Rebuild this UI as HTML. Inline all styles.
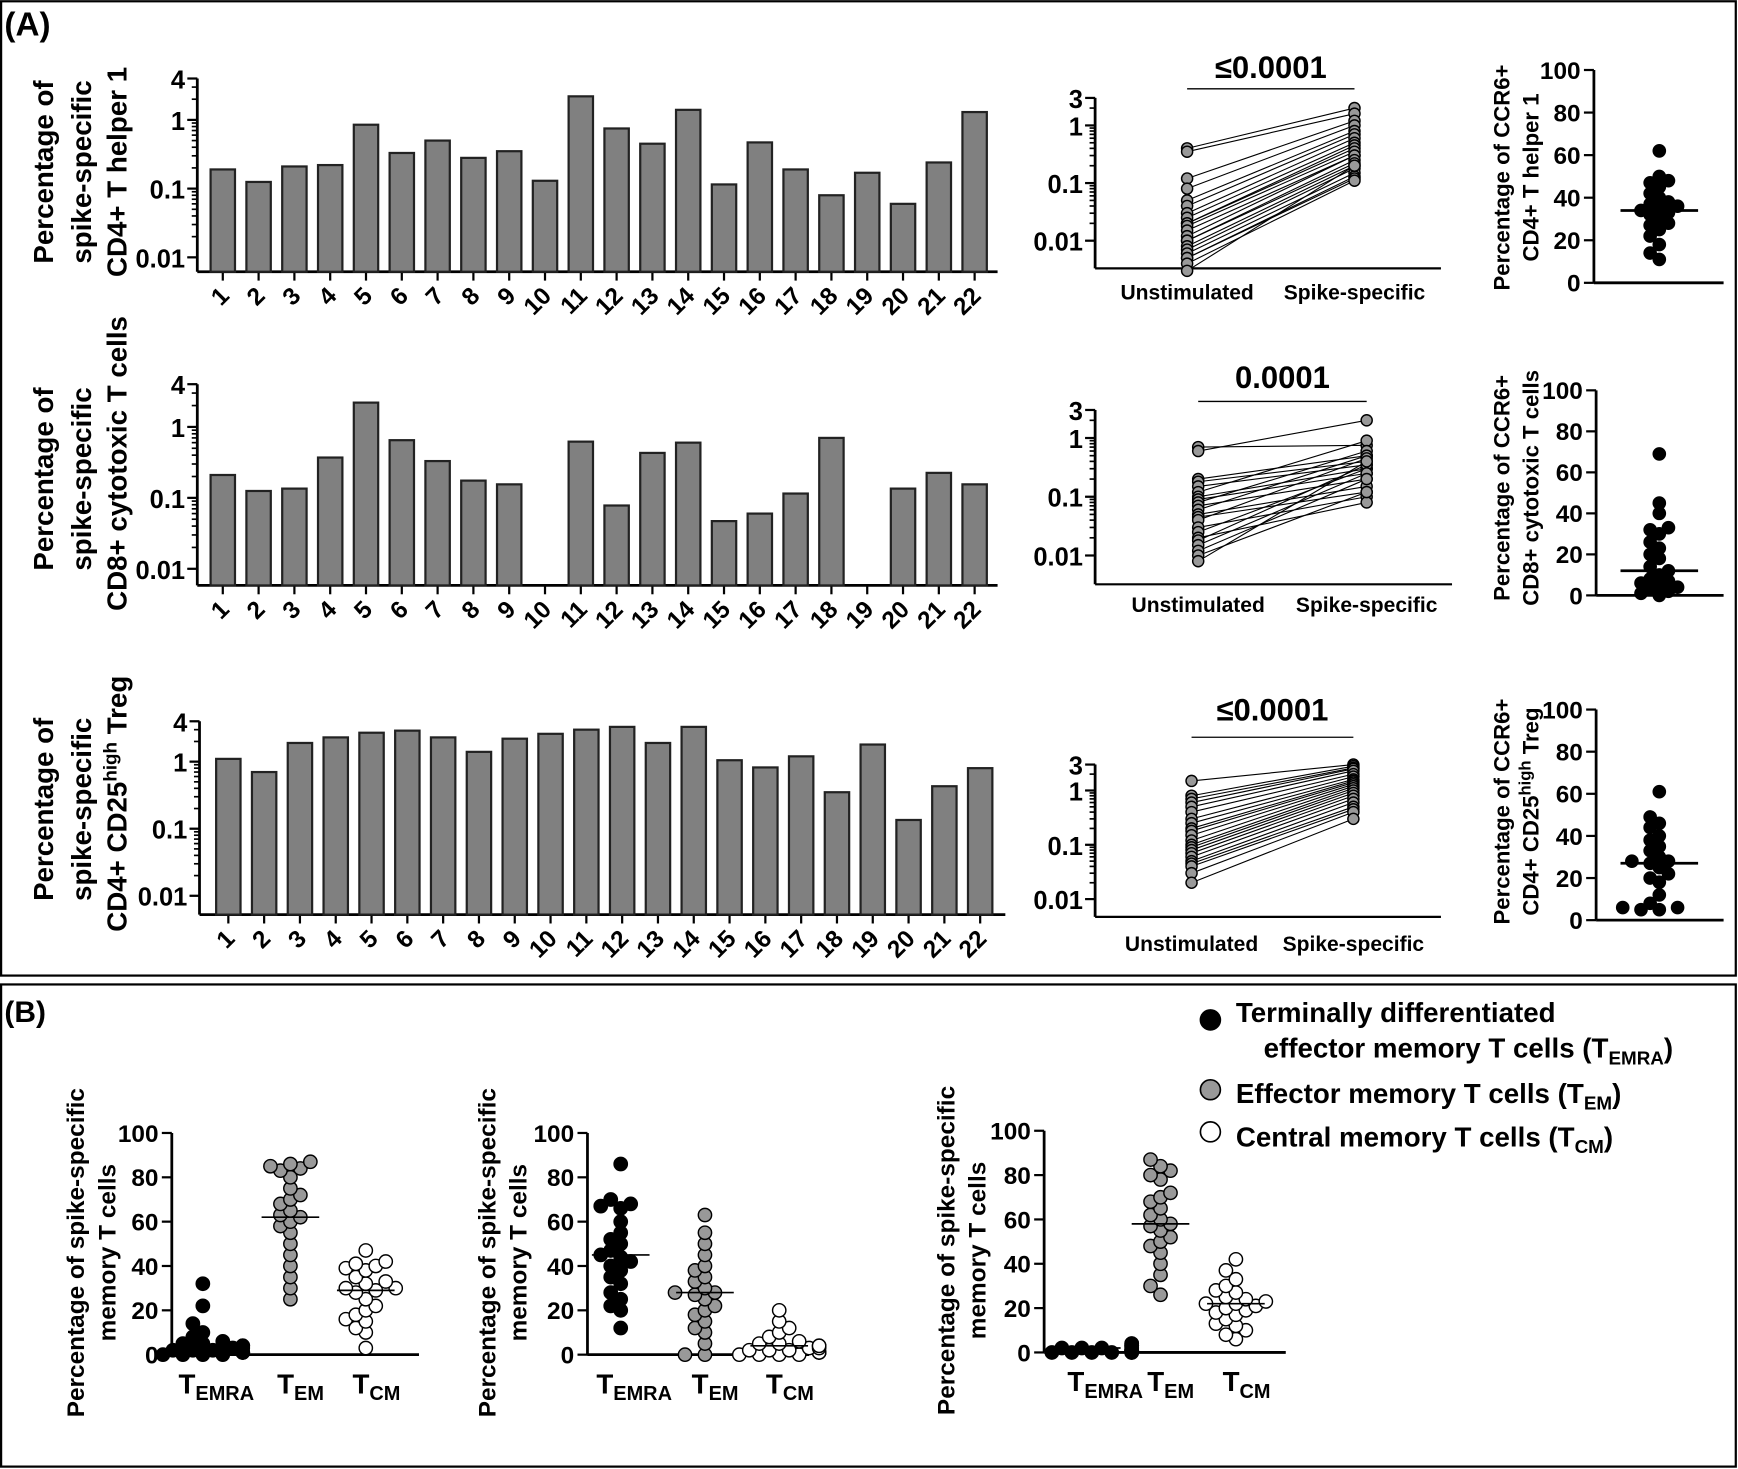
<!DOCTYPE html>
<html><head><meta charset="utf-8"><style>
html,body{margin:0;padding:0;background:#fff}
svg{display:block;font-family:"Liberation Sans",Arial,sans-serif;font-weight:bold}
</style></head><body>
<svg id="fig" xmlns="http://www.w3.org/2000/svg" width="1738" height="1469" viewBox="0 0 1568 1325">
<rect x="1" y="1" width="1565" height="879" fill="none" stroke="#000" stroke-width="2"/>
<rect x="1" y="888" width="1565" height="435" fill="none" stroke="#000" stroke-width="2"/>
<text x="4" y="32" font-size="30">(A)</text>
<text x="4" y="922" font-size="27">(B)</text>
<g font-size="25">
<text transform="translate(48,155) rotate(-90)" text-anchor="middle">Percentage of</text>
<text transform="translate(82,155) rotate(-90)" text-anchor="middle">spike-specific</text>
<text transform="translate(114,155) rotate(-90)" text-anchor="middle">CD4+ T helper 1</text>
</g>
<g font-size="25">
<text transform="translate(48,432) rotate(-90)" text-anchor="middle">Percentage of</text>
<text transform="translate(82,432) rotate(-90)" text-anchor="middle">spike-specific</text>
<text transform="translate(114,418) rotate(-90)" text-anchor="middle">CD8+ cytotoxic T cells</text>
</g>
<g font-size="25">
<text transform="translate(48,730) rotate(-90)" text-anchor="middle">Percentage of</text>
<text transform="translate(82,730) rotate(-90)" text-anchor="middle">spike-specific</text>
<text transform="translate(114,725) rotate(-90)" text-anchor="middle">CD4+ CD25<tspan font-size="17" dy="-9">high</tspan><tspan dy="9"> Treg</tspan></text>
</g>
<g font-size="20">
<text transform="translate(1362,160) rotate(-90)" text-anchor="middle">Percentage of CCR6+</text>
<text transform="translate(1388,160) rotate(-90)" text-anchor="middle">CD4+ T helper 1</text>
<text transform="translate(1362,440) rotate(-90)" text-anchor="middle">Percentage of CCR6+</text>
<text transform="translate(1388,440) rotate(-90)" text-anchor="middle">CD8+ cytotoxic T cells</text>
<text transform="translate(1362,732) rotate(-90)" text-anchor="middle">Percentage of CCR6+</text>
<text transform="translate(1388,732) rotate(-90)" text-anchor="middle">CD4+ CD25<tspan font-size="15" dy="-7">high</tspan><tspan dy="7"> Treg</tspan></text>
</g>
<g font-size="22">
<text transform="translate(76,1130) rotate(-90)" text-anchor="middle">Percentage of spike-specific</text>
<text transform="translate(104,1130) rotate(-90)" text-anchor="middle">memory T cells</text>
<text transform="translate(447,1130) rotate(-90)" text-anchor="middle">Percentage of spike-specific</text>
<text transform="translate(475,1130) rotate(-90)" text-anchor="middle">memory T cells</text>
<text transform="translate(861,1128) rotate(-90)" text-anchor="middle">Percentage of spike-specific</text>
<text transform="translate(889,1128) rotate(-90)" text-anchor="middle">memory T cells</text>
</g>
<g font-size="25">
<circle cx="1092" cy="920" r="9" fill="#000" stroke="#000" stroke-width="1.5"/>
<text x="1115" y="922">Terminally differentiated</text>
<text x="1140" y="954">effector memory T cells (T<tspan font-size="17" dy="6">EMRA</tspan><tspan dy="-6">)</tspan></text>
<circle cx="1092" cy="983" r="9" fill="#999" stroke="#000" stroke-width="1.5"/>
<text x="1115" y="995">Effector memory T cells (T<tspan font-size="17" dy="6">EM</tspan><tspan dy="-6">)</tspan></text>
<circle cx="1092" cy="1021" r="9" fill="#fff" stroke="#000" stroke-width="1.5"/>
<text x="1115" y="1034">Central memory T cells (T<tspan font-size="17" dy="6">CM</tspan><tspan dy="-6">)</tspan></text>
</g>
</svg>
<script>
// ---- data ----
const donors = ["1","2","3","4","5","6","7","8","9","10","11","12","13","14","15","16","17","18","19","20","21","22"];
const th1Bars = [0.19,0.125,0.21,0.22,0.85,0.33,0.5,0.28,0.35,0.13,2.2,0.75,0.45,1.4,0.115,0.47,0.19,0.08,0.17,0.06,0.24,1.3];
const ctlBars = [0.21,0.125,0.135,0.37,2.2,0.65,0.33,0.175,0.155,null,0.62,0.078,0.43,0.6,0.047,0.06,0.115,0.7,null,0.135,0.225,0.155];
const tregBars = [1.1,0.7,1.9,2.3,2.7,2.9,2.3,1.4,2.2,2.6,3.0,3.3,1.9,3.3,1.05,0.82,1.2,0.35,1.8,0.135,0.43,0.8];
const logTicks = [0.01,0.1,1,4];
const logTickLabels = ["0.01","0.1","1","4"];
const pairTicks = [0.01,0.1,1,3];
const pairTickLabels = ["0.01","0.1","1","3"];
const th1Unstim = [0.4,0.35,0.12,0.08,0.05,0.04,0.03,0.025,0.02,0.02,0.018,0.015,0.012,0.01,0.01,0.008,0.007,0.006,0.005,0.005,0.004,0.003];
const th1Spike = [2.0,1.6,1.2,1.0,0.8,0.7,0.6,0.5,0.45,0.4,0.35,0.3,0.3,0.25,0.22,0.2,0.18,0.15,0.13,0.12,0.11,0.2];
const ctlUnstim = [0.7,0.6,0.2,0.18,0.15,0.12,0.1,0.09,0.08,0.07,0.06,0.05,0.045,0.04,0.03,0.025,0.02,0.018,0.015,0.012,0.01,0.008];
const ctlSpike = [0.75,2.0,0.5,0.4,0.35,0.9,0.3,0.25,0.6,0.2,0.5,0.15,0.12,0.45,0.1,0.3,0.08,0.35,0.25,0.2,0.12,0.4];
const tregUnstim = [1.5,0.8,0.7,0.6,0.5,0.4,0.3,0.25,0.2,0.18,0.15,0.12,0.1,0.09,0.08,0.07,0.06,0.05,0.045,0.04,0.03,0.02];
const tregSpike = [3.0,2.8,2.6,2.5,2.3,2.0,1.8,1.6,1.5,1.4,1.3,1.2,1.1,1.0,0.9,0.8,0.7,0.6,0.5,0.45,0.4,0.3];
const pairCats = ["Unstimulated","Spike-specific"];
const pctTicks = [0,20,40,60,80,100];
const th1Ccr6 = [62,50,48,47,45,42,40,38,37,36,35,34,33,32,30,28,27,25,22,18,14,11];
const ctlCcr6 = [69,45,40,33,32,30,26,23,20,18,14,12,10,8,7,6,5,4,3,2,1,0];
const tregCcr6 = [61,49,46,44,40,38,35,33,30,28,28,27,25,22,20,18,12,8,6,5,5,6];
const ccr6Medians = [34,12,27];
const memCats = ["EMRA","EM","CM"];
const b1Emra = [32,22,14,10,8,6,5,5,4,4,3,3,2,2,2,1,1,1,0,0,0,0];
const b1Em = [87,86,85,84,83,80,75,72,70,68,65,63,62,60,58,55,50,45,40,35,30,25];
const b1Cm = [47,42,41,40,39,38,35,33,32,30,30,29,28,25,22,20,18,16,15,12,10,3];
const b2Emra = [86,70,68,67,66,60,55,52,50,47,45,44,42,40,38,35,32,28,25,22,20,12];
const b2Em = [63,55,50,45,40,38,35,33,30,28,28,27,25,22,20,18,15,12,10,5,0,0];
const b2Cm = [20,15,12,10,8,6,5,5,4,4,3,3,2,2,2,1,1,1,0,0,0,0];
const b3Emra = [4,4,3,3,3,2,2,2,2,2,1,1,1,1,1,1,0,0,0,0,0,0];
const b3Em = [87,84,82,80,78,72,70,68,65,62,60,58,57,55,52,50,48,45,40,35,30,26];
const b3Cm = [42,37,33,30,28,27,25,24,23,22,22,21,20,19,18,17,15,13,12,10,8,6];
const b1Medians = [3,62,29];
const b2Medians = [45,28,4];
const b3Medians = [2,58,22];
const pValues = ["≤0.0001","0.0001","≤0.0001"];

const svg = document.getElementById('fig');
const NS = 'http://www.w3.org/2000/svg';
function mk(tag, attrs, parent){
  const e = document.createElementNS(NS, tag);
  for (const k in attrs) e.setAttribute(k, attrs[k]);
  (parent||svg).appendChild(e);
  return e;
}
function line(x1,y1,x2,y2,w,p){ return mk('line',{x1,y1,x2,y2,stroke:'#000','stroke-width':w||2},p); }
function txt(x,y,s,size,anchor,p){ const t=mk('text',{x,y,'font-size':size,'text-anchor':anchor||'start'},p); t.textContent=s; return t; }
function logScale(y1,dec){ return v => y1 - Math.log10(v)*dec; }
function linScale(y0,y100){ return v => y0 + (y100-y0)*v/100; }

function logAxis(g, ax, sc, top, bottom, ticks, labels){
  line(ax,top,ax,bottom,2.5,g);
  for (let d=-2; d<=0; d++){
    for (let m=1;m<10;m++){
      const v=m*Math.pow(10,d); const y=sc(v);
      if (y<top-1) continue;
      line(ax-(m===1?9:5),y,ax,y,1.5,g);
    }
  }
  ticks.forEach((v,i)=>{ const y=sc(v); line(ax-9,y,ax,y,2,g); txt(ax-11,y+9,labels[i],23,'end',g); });
}

// ---- bar charts ----
function barChart(name, vals, ax, right, top, y1, dec, bottom, first, step){
  const g = mk('g',{});
  
  
  const sc = logScale(y1,dec);
  logAxis(g, ax, sc, sc(4), bottom, logTicks, logTickLabels);
  line(ax,bottom,right,bottom,2.5,g);
  vals.forEach((v,i)=>{
    const cx = first + i*step;
    line(cx,bottom,cx,bottom+8,2,g);
    const lab = txt(cx+7,bottom+23,donors[i],22,'end',g);
    lab.setAttribute('transform',`rotate(-45 ${cx+7} ${bottom+23})`);
    if (v===null) return;
    const y = sc(v);
    const r = mk('rect',{x:cx-11,y:y,width:22,height:bottom-y,fill:'#808080',stroke:'#222','stroke-width':2},g);
    
    
  });
}
barChart('th1-bar-chart', th1Bars, 178, 900, 70, 108, 62, 245, 201, 32.3);
barChart('ctl-bar-chart', ctlBars, 178, 900, 347, 385, 64, 528, 201, 32.3);
barChart('treg-bar-chart', tregBars, 180, 907, 650, 687, 60.5, 825, 206, 32.3);

// ---- paired charts ----
function pairChart(name, un, sp, ax, right, y1, dec, bottom, xu, xs, pIdx, pY, lineY, catY){
  const g = mk('g',{});
  
  
  const sc = logScale(y1,dec);
  logAxis(g, ax, sc, sc(3), bottom, pairTicks, pairTickLabels);
  line(ax,bottom,right,bottom,2,g);
  txt(xu,catY,pairCats[0],19,'middle',g);
  txt(xs,catY,pairCats[1],19,'middle',g);
  line(xu,lineY,xs,lineY,1.2,g);
  txt((xu+xs)/2,pY,pValues[pIdx],28,'middle',g);
  un.forEach((v,i)=>{ line(xu,sc(v),xs,sc(sp[i]),1,g); });
  un.forEach((v,i)=>{
    const c = mk('circle',{cx:xu,cy:sc(v),r:5,fill:'#999',stroke:'#000','stroke-width':1.3},g);
    
    
  });
  sp.forEach((v,i)=>{
    const c = mk('circle',{cx:xs,cy:sc(v),r:5,fill:'#999',stroke:'#000','stroke-width':1.3},g);
    
    
  });
}
pairChart('th1-paired-chart', th1Unstim, th1Spike, 988, 1300, 113, 52, 242, 1071, 1222, 0, 70, 80, 270);
pairChart('ctl-paired-chart', ctlUnstim, ctlSpike, 988, 1310, 395, 53, 527, 1081, 1233, 1, 350, 362, 552);
pairChart('treg-paired-chart', tregUnstim, tregSpike, 988, 1300, 713, 49, 827, 1075, 1221, 2, 650, 665, 858);

// ---- percentage dot plots ----
function pctAxis(g, ax, sc, right){
  line(ax, sc(100), ax, sc(0), 2.5, g);
  line(ax, sc(0), right, sc(0), 2.5, g);
  pctTicks.forEach(v=>{ const y=sc(v); line(ax-9,y,ax,y,2,g); txt(ax-12,y+8,String(v),22,'end',g); });
}
function swarm(g, vals, cx, sc, fill, name, r){
  const sorted = vals.map((v,i)=>[v,i]).sort((a,b)=>a[0]-b[0]);
  const placed = [];
  sorted.forEach(([v])=>{
    const y = sc(v);
    let off = 0, k = 0;
    const cand = [0,-1,1,-2,2,-3,3,-4,4];
    for (k=0;k<cand.length;k++){
      off = cand[k]*r*1.5;
      if (!placed.some(p=>Math.hypot(p[0]-off,p[1]-y) < r*1.6)) break;
    }
    placed.push([off,y]);
    const c = mk('circle',{cx:cx+off,cy:y,r:r,fill:fill,stroke:'#000','stroke-width':1.3},g);
    
    
  });
}
function ccr6Chart(name, vals, med, ax, right, y0, y100, cx){
  const g = mk('g',{});
  
  
  const sc = linScale(y0,y100);
  pctAxis(g, ax, sc, right);
  swarm(g, vals, cx, sc, '#000', 'ccr6-point', 5.5);
  line(cx-35, sc(med), cx+35, sc(med), 2.5, g);
}
ccr6Chart('th1-ccr6-chart', th1Ccr6, ccr6Medians[0], 1438, 1555, 255, 63, 1497);
ccr6Chart('ctl-ccr6-chart', ctlCcr6, ccr6Medians[1], 1440, 1555, 537, 352, 1497);
ccr6Chart('treg-ccr6-chart', tregCcr6, ccr6Medians[2], 1440, 1555, 830, 640, 1497);

// ---- memory charts ----
function memChart(name, sets, meds, ax, right, y0, y100, xs){
  const g = mk('g',{});
  
  
  const sc = linScale(y0,y100);
  pctAxis(g, ax, sc, right);
  const fills = ['#000','#999','#fff'];
  sets.forEach((vals,k)=>{
    swarm(g, vals, xs[k], sc, fills[k], 'memory-point-'+memCats[k].toLowerCase(), 6);
    line(xs[k]-26, sc(meds[k]), xs[k]+26, sc(meds[k]), 1.5, g);
    const t = mk('text',{x:xs[k]-(k===0?22:12),y:y0+35,'font-size':25},g);
    t.textContent='T';
    const s = mk('tspan',{'font-size':18,dy:6},t);
    s.textContent = memCats[k];
  });
}
memChart('memory-chart-1', [b1Emra,b1Em,b1Cm], b1Medians, 155, 378, 1222, 1022, [183,262,330]);
memChart('memory-chart-2', [b2Emra,b2Em,b2Cm], b2Medians, 530, 730, 1222, 1022, [560,636,703]);
memChart('memory-chart-3', [b3Emra,b3Em,b3Cm], b3Medians, 942, 1160, 1220, 1020, [985,1047,1115]);
</script>
</body></html>
